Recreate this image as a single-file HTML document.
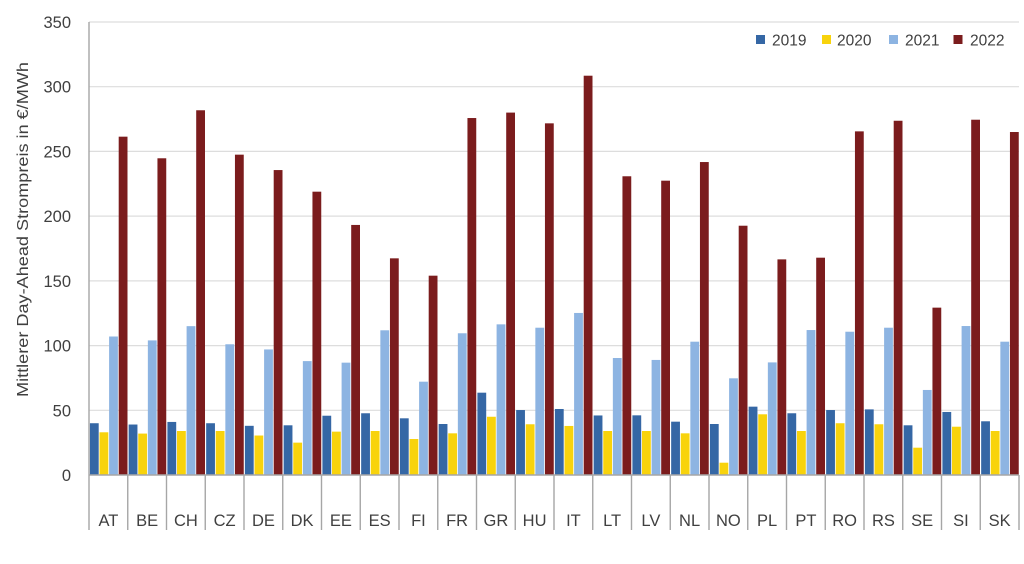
<!DOCTYPE html>
<html>
<head>
<meta charset="utf-8">
<style>
  html,body{margin:0;padding:0;background:#fff;}
  svg{display:block;}
  text{font-family:"Liberation Sans",sans-serif;fill:#404040;}
</style>
</head>
<body>
<svg width="1024" height="564" viewBox="0 0 1024 564" xmlns="http://www.w3.org/2000/svg">
  <rect x="0" y="0" width="1024" height="564" fill="#fff"/>
  <!-- gridlines -->
  <g stroke="#DDDDDD" stroke-width="1.2">
    <line x1="89" y1="22" x2="1019" y2="22"/>
    <line x1="89" y1="86.7" x2="1019" y2="86.7"/>
    <line x1="89" y1="151.4" x2="1019" y2="151.4"/>
    <line x1="89" y1="216.1" x2="1019" y2="216.1"/>
    <line x1="89" y1="280.9" x2="1019" y2="280.9"/>
    <line x1="89" y1="345.6" x2="1019" y2="345.6"/>
    <line x1="89" y1="410.3" x2="1019" y2="410.3"/>
  </g>
  <!-- y tick labels -->
  <g font-size="16.5" text-anchor="end">
    <text x="71" y="28">350</text>
    <text x="71" y="92.7">300</text>
    <text x="71" y="157.4">250</text>
    <text x="71" y="222.1">200</text>
    <text x="71" y="286.9">150</text>
    <text x="71" y="351.6">100</text>
    <text x="71" y="416.3">50</text>
    <text x="71" y="481">0</text>
  </g>
  <!-- y axis title -->
  <text transform="translate(28,229.5) rotate(-90)" font-size="16" text-anchor="middle" textLength="335" lengthAdjust="spacingAndGlyphs">Mittlerer Day-Ahead Strompreis in €/MWh</text>

  <!-- bars: group scaled so that height = value -->
  <g transform="translate(89,475) scale(1,-1.2943)">
    <g fill="#3567A5">
      <rect x="0.9" y="0" width="8.8" height="40"/>
      <rect x="39.65" y="0" width="8.8" height="39"/>
      <rect x="78.4" y="0" width="8.8" height="41"/>
      <rect x="117.15" y="0" width="8.8" height="40"/>
      <rect x="155.9" y="0" width="8.8" height="38"/>
      <rect x="194.65" y="0" width="8.8" height="38.4"/>
      <rect x="233.4" y="0" width="8.8" height="45.8"/>
      <rect x="272.15" y="0" width="8.8" height="47.7"/>
      <rect x="310.9" y="0" width="8.8" height="43.8"/>
      <rect x="349.65" y="0" width="8.8" height="39.4"/>
      <rect x="388.4" y="0" width="8.8" height="63.6"/>
      <rect x="427.15" y="0" width="8.8" height="50.2"/>
      <rect x="465.9" y="0" width="8.8" height="51"/>
      <rect x="504.65" y="0" width="8.8" height="46"/>
      <rect x="543.4" y="0" width="8.8" height="46.1"/>
      <rect x="582.15" y="0" width="8.8" height="41.2"/>
      <rect x="620.9" y="0" width="8.8" height="39.4"/>
      <rect x="659.65" y="0" width="8.8" height="52.8"/>
      <rect x="698.4" y="0" width="8.8" height="47.7"/>
      <rect x="737.15" y="0" width="8.8" height="50.2"/>
      <rect x="775.9" y="0" width="8.8" height="50.7"/>
      <rect x="814.65" y="0" width="8.8" height="38.4"/>
      <rect x="853.4" y="0" width="8.8" height="48.7"/>
      <rect x="892.15" y="0" width="8.8" height="41.5"/>
    </g>
    <g fill="#F8D30C">
      <rect x="10.5" y="0" width="8.8" height="33"/>
      <rect x="49.25" y="0" width="8.8" height="32"/>
      <rect x="88" y="0" width="8.8" height="34"/>
      <rect x="126.75" y="0" width="8.8" height="34"/>
      <rect x="165.5" y="0" width="8.8" height="30.5"/>
      <rect x="204.25" y="0" width="8.8" height="25"/>
      <rect x="243" y="0" width="8.8" height="33.5"/>
      <rect x="281.75" y="0" width="8.8" height="34"/>
      <rect x="320.5" y="0" width="8.8" height="27.8"/>
      <rect x="359.25" y="0" width="8.8" height="32.2"/>
      <rect x="398" y="0" width="8.8" height="45"/>
      <rect x="436.75" y="0" width="8.8" height="39.2"/>
      <rect x="475.5" y="0" width="8.8" height="37.9"/>
      <rect x="514.25" y="0" width="8.8" height="34"/>
      <rect x="553" y="0" width="8.8" height="34"/>
      <rect x="591.75" y="0" width="8.8" height="32.2"/>
      <rect x="630.5" y="0" width="8.8" height="9.5"/>
      <rect x="669.25" y="0" width="8.8" height="46.9"/>
      <rect x="708" y="0" width="8.8" height="34"/>
      <rect x="746.75" y="0" width="8.8" height="40"/>
      <rect x="785.5" y="0" width="8.8" height="39.2"/>
      <rect x="824.25" y="0" width="8.8" height="21.1"/>
      <rect x="863" y="0" width="8.8" height="37.3"/>
      <rect x="901.75" y="0" width="8.8" height="34"/>
    </g>
    <g fill="#8DB4E2">
      <rect x="20.1" y="0" width="8.8" height="107"/>
      <rect x="58.85" y="0" width="8.8" height="104"/>
      <rect x="97.6" y="0" width="8.8" height="115"/>
      <rect x="136.35" y="0" width="8.8" height="101"/>
      <rect x="175.1" y="0" width="8.8" height="97"/>
      <rect x="213.85" y="0" width="8.8" height="88"/>
      <rect x="252.6" y="0" width="8.8" height="86.8"/>
      <rect x="291.35" y="0" width="8.8" height="111.8"/>
      <rect x="330.1" y="0" width="8.8" height="72.1"/>
      <rect x="368.85" y="0" width="8.8" height="109.5"/>
      <rect x="407.6" y="0" width="8.8" height="116.4"/>
      <rect x="446.35" y="0" width="8.8" height="113.8"/>
      <rect x="485.1" y="0" width="8.8" height="125.2"/>
      <rect x="523.85" y="0" width="8.8" height="90.4"/>
      <rect x="562.6" y="0" width="8.8" height="88.9"/>
      <rect x="601.35" y="0" width="8.8" height="103"/>
      <rect x="640.1" y="0" width="8.8" height="74.7"/>
      <rect x="678.85" y="0" width="8.8" height="87"/>
      <rect x="717.6" y="0" width="8.8" height="112"/>
      <rect x="756.35" y="0" width="8.8" height="110.7"/>
      <rect x="795.1" y="0" width="8.8" height="113.8"/>
      <rect x="833.85" y="0" width="8.8" height="65.7"/>
      <rect x="872.6" y="0" width="8.8" height="115.1"/>
      <rect x="911.35" y="0" width="8.8" height="103"/>
    </g>
    <g fill="#7B1C1D">
      <rect x="29.7" y="0" width="8.8" height="261.4"/>
      <rect x="68.45" y="0" width="8.8" height="244.7"/>
      <rect x="107.2" y="0" width="8.8" height="281.8"/>
      <rect x="145.95" y="0" width="8.8" height="247.5"/>
      <rect x="184.7" y="0" width="8.8" height="235.6"/>
      <rect x="223.45" y="0" width="8.8" height="218.9"/>
      <rect x="262.2" y="0" width="8.8" height="193.2"/>
      <rect x="300.95" y="0" width="8.8" height="167.4"/>
      <rect x="339.7" y="0" width="8.8" height="154"/>
      <rect x="378.45" y="0" width="8.8" height="275.8"/>
      <rect x="417.2" y="0" width="8.8" height="280"/>
      <rect x="455.95" y="0" width="8.8" height="271.7"/>
      <rect x="494.7" y="0" width="8.8" height="308.5"/>
      <rect x="533.45" y="0" width="8.8" height="230.8"/>
      <rect x="572.2" y="0" width="8.8" height="227.4"/>
      <rect x="610.95" y="0" width="8.8" height="241.8"/>
      <rect x="649.7" y="0" width="8.8" height="192.6"/>
      <rect x="688.45" y="0" width="8.8" height="166.6"/>
      <rect x="727.2" y="0" width="8.8" height="167.9"/>
      <rect x="765.95" y="0" width="8.8" height="265.5"/>
      <rect x="804.7" y="0" width="8.8" height="273.7"/>
      <rect x="843.45" y="0" width="8.8" height="129.3"/>
      <rect x="882.2" y="0" width="8.8" height="274.5"/>
      <rect x="920.95" y="0" width="8.8" height="265"/>
    </g>
  </g>

  <!-- axes -->
  <g stroke="#A6A6A6" stroke-width="1.4">
    <line x1="89" y1="22" x2="89" y2="530"/>
    <line x1="89" y1="475" x2="1019" y2="475"/>
    <line x1="127.75" y1="475" x2="127.75" y2="530"/>
    <line x1="166.5" y1="475" x2="166.5" y2="530"/>
    <line x1="205.25" y1="475" x2="205.25" y2="530"/>
    <line x1="244" y1="475" x2="244" y2="530"/>
    <line x1="282.75" y1="475" x2="282.75" y2="530"/>
    <line x1="321.5" y1="475" x2="321.5" y2="530"/>
    <line x1="360.25" y1="475" x2="360.25" y2="530"/>
    <line x1="399" y1="475" x2="399" y2="530"/>
    <line x1="437.75" y1="475" x2="437.75" y2="530"/>
    <line x1="476.5" y1="475" x2="476.5" y2="530"/>
    <line x1="515.25" y1="475" x2="515.25" y2="530"/>
    <line x1="554" y1="475" x2="554" y2="530"/>
    <line x1="592.75" y1="475" x2="592.75" y2="530"/>
    <line x1="631.5" y1="475" x2="631.5" y2="530"/>
    <line x1="670.25" y1="475" x2="670.25" y2="530"/>
    <line x1="709" y1="475" x2="709" y2="530"/>
    <line x1="747.75" y1="475" x2="747.75" y2="530"/>
    <line x1="786.5" y1="475" x2="786.5" y2="530"/>
    <line x1="825.25" y1="475" x2="825.25" y2="530"/>
    <line x1="864" y1="475" x2="864" y2="530"/>
    <line x1="902.75" y1="475" x2="902.75" y2="530"/>
    <line x1="941.5" y1="475" x2="941.5" y2="530"/>
    <line x1="980.25" y1="475" x2="980.25" y2="530"/>
    <line x1="1019" y1="475" x2="1019" y2="530"/>
  </g>

  <!-- category labels -->
  <g font-size="16.5" text-anchor="middle">
    <text x="108.4" y="526">AT</text>
    <text x="147.1" y="526">BE</text>
    <text x="185.9" y="526">CH</text>
    <text x="224.6" y="526">CZ</text>
    <text x="263.4" y="526">DE</text>
    <text x="302.1" y="526">DK</text>
    <text x="340.9" y="526">EE</text>
    <text x="379.6" y="526">ES</text>
    <text x="418.4" y="526">FI</text>
    <text x="457.1" y="526">FR</text>
    <text x="495.9" y="526">GR</text>
    <text x="534.6" y="526">HU</text>
    <text x="573.4" y="526">IT</text>
    <text x="612.1" y="526">LT</text>
    <text x="650.9" y="526">LV</text>
    <text x="689.6" y="526">NL</text>
    <text x="728.4" y="526">NO</text>
    <text x="767.1" y="526">PL</text>
    <text x="805.9" y="526">PT</text>
    <text x="844.6" y="526">RO</text>
    <text x="883.4" y="526">RS</text>
    <text x="922.1" y="526">SE</text>
    <text x="960.9" y="526">SI</text>
    <text x="999.6" y="526">SK</text>
  </g>

  <!-- legend -->
  <rect x="756" y="35" width="9" height="9" fill="#3567A5"/>
  <text x="772" y="45.5" font-size="15.5">2019</text>
  <rect x="822" y="35" width="9" height="9" fill="#F8D30C"/>
  <text x="837" y="45.5" font-size="15.5">2020</text>
  <rect x="889" y="35" width="9" height="9" fill="#8DB4E2"/>
  <text x="905" y="45.5" font-size="15.5">2021</text>
  <rect x="953.5" y="35" width="9" height="9" fill="#7B1C1D"/>
  <text x="970" y="45.5" font-size="15.5">2022</text>
</svg>
</body>
</html>
